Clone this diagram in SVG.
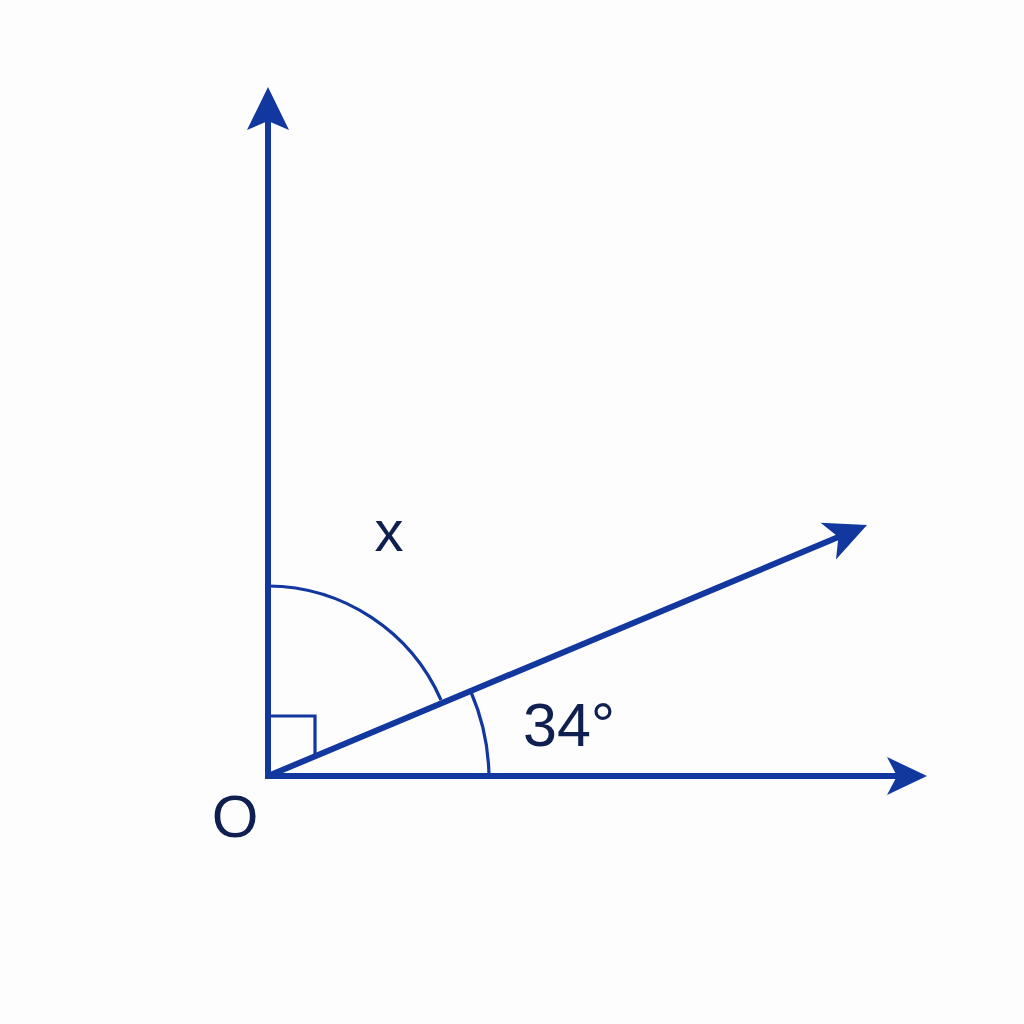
<svg xmlns="http://www.w3.org/2000/svg" width="1024" height="1024" viewBox="0 0 1024 1024">
<style>
.ray{stroke:#1238a0;stroke-width:6;fill:none}
.thin{stroke:#1238a0;stroke-width:3.2;fill:none}
.head{fill:#1238a0;stroke:none}
.lbl{font-family:"Liberation Sans",Arial,sans-serif;fill:#0f1f50}
</style>
<rect width="1024" height="1024" fill="#fdfdfd"/>
<g id="connectors">
<line class="ray" x1="268" y1="779" x2="268" y2="120"/>
<polygon class="head" points="268,87 247,130 268,121 289,130"/>
<line class="ray" x1="265" y1="776" x2="900" y2="776"/>
<polygon class="head" points="927,776 887,757 897,776 887,795"/>
<line class="ray" x1="268" y1="776" x2="842" y2="535.5"/>
<polygon class="head" points="867,525 820.6,522.8 838.4,537 836,559.6"/>
</g>
<g id="right-angle">
<polyline class="thin" points="269,716 315,716 315,755"/>
</g>
<g id="arc-x">
<path class="thin" d="M268,586 A190,190 0 0 1 441,700"/>
</g>
<g id="arc-34">
<path class="thin" d="M489,776 A221,221 0 0 0 471,692"/>
</g>
<g id="label-x"><text class="lbl" x="389" y="551" font-size="58" text-anchor="middle">x</text></g>
<g id="label-34"><text class="lbl" x="523" y="746" font-size="61">34°</text></g>
<g id="label-O"><text class="lbl" x="235" y="837" font-size="60" text-anchor="middle">O</text></g>
</svg>
